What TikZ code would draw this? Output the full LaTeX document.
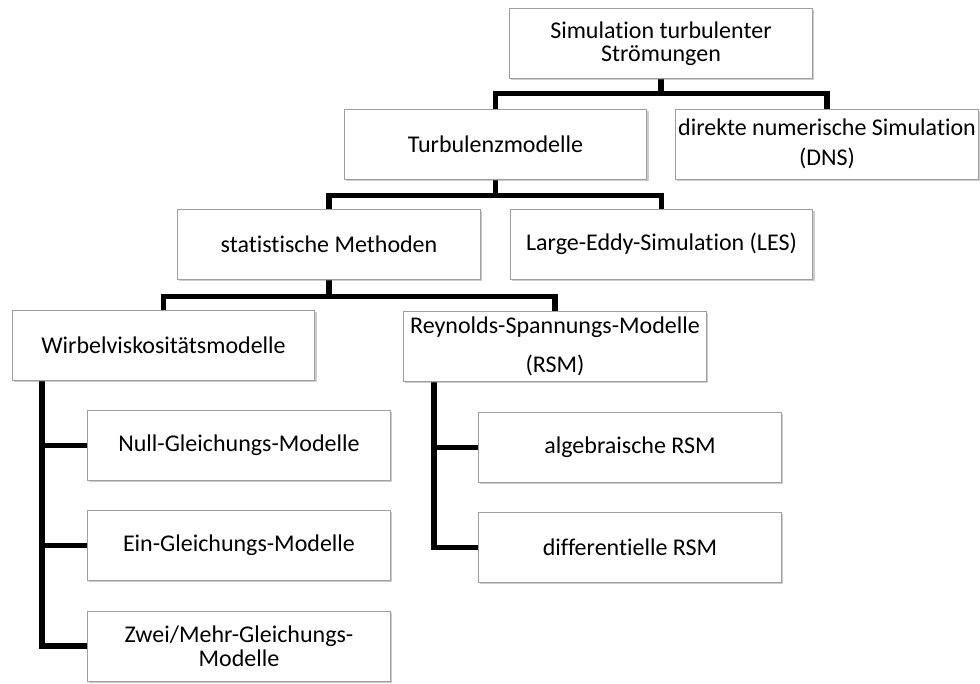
\documentclass[tikz,border=0pt]{standalone}
\usepackage{fontspec}
\setmainfont[Ligatures={NoCommon}]{Carlito}
\usetikzlibrary{shadows,backgrounds}
\begin{document}
\begin{tikzpicture}[x=0.75pt,y=-0.75pt,
  box/.style={draw=gray!75, line width=0.6pt, fill=white, inner sep=0pt,
    minimum width=227pt, minimum height=52.5pt, align=center,
    font=\fontsize{18}{22}\selectfont,
    drop shadow={shadow xshift=1.3pt, shadow yshift=-1.3pt, opacity=0.4, fill=gray}},
  conn/.style={line width=3.8pt, line join=miter, draw=black}]
\useasboundingbox (0,0) rectangle (980,684);
\node[box] (root) at (661,43.5) {Simulation turbulenter\\[-5pt]Strömungen};
\node[box] (turb) at (495.5,144) {Turbulenzmodelle};
\node[box] (dns) at (827,144) {direkte numerische Simulation\\[0pt](DNS)};
\node[box] (stat) at (329,244.5) {statistische Methoden};
\node[box] (les) at (661.5,244) {Large-Eddy-Simulation (LES)};
\node[box] (wirbel) at (163.5,345) {Wirbelviskositätsmodelle};
\node[box] (rey) at (555,346.5) {Reynolds-Spannungs-Modelle\\[7pt](RSM)};
\node[box] (null) at (239,445.5) {Null-Gleichungs-Modelle};
\node[box] (ein) at (239,545.5) {Ein-Gleichungs-Modelle};
\node[box] (zwei) at (239,646) {Zwei/Mehr-Gleichungs-\\[-4pt]Modelle};
\node[box] (alg) at (630,447.5) {algebraische RSM};
\node[box] (diff) at (630,547.5) {differentielle RSM};
\coordinate (wt) at (42,0);
\coordinate (rt) at (434,0);
\begin{pgfonlayer}{background}
\draw[conn] (root.south) -- ++(0,15);
\draw[conn] (turb.north) -- ++(0,-15) -| (dns.north);
\draw[conn] (turb.south) -- ++(0,16);
\draw[conn] (stat.north) -- ++(0,-14) -| (les.north);
\draw[conn] (stat.south) -- ++(0,17);
\draw[conn] (wirbel.north) -- ++(0,-13) -| (rey.north);
\draw[conn] (wirbel.south -| wt) |- (zwei.west);
\draw[conn] (null.west) -- (null.west -| wt);
\draw[conn] (ein.west) -- (ein.west -| wt);
\draw[conn] (rey.south -| rt) |- (diff.west);
\draw[conn] (alg.west) -- (alg.west -| rt);
\end{pgfonlayer}
\end{tikzpicture}
\end{document}
